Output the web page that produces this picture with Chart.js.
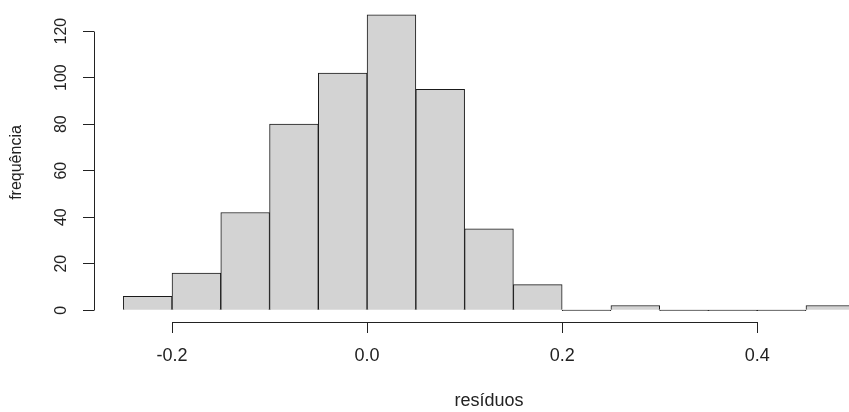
<!DOCTYPE html>
<html lang="pt">
<head>
<meta charset="utf-8">
<title>Histograma dos resíduos</title>
<script src="https://cdn.jsdelivr.net/npm/chart.js@4.4.1/dist/chart.umd.min.js"></script>
<style>
    html, body { margin: 0; padding: 0; background: #fff; overflow: hidden; }
    canvas { display: block; }
</style>
</head>
<body>
<canvas id="hist-chart" width="890" height="412"></canvas>
<script>
// histogram of the residuals: bin edges and counts per bin
const breaks = [-0.25, -0.2, -0.15, -0.1, -0.05, 0, 0.05, 0.1, 0.15, 0.2, 0.25, 0.3, 0.35, 0.4, 0.45, 0.5];
const counts = [6, 16, 42, 80, 102, 127, 95, 35, 11, 0, 2, 0, 0, 0, 2];
const xTicks = [-0.2, 0, 0.2, 0.4];
const yTicks = [0, 20, 40, 60, 80, 100, 120];
const xLabel = "resíduos";
const yLabel = "frequência";

const ink = "#222";
const font = "'Liberation Sans', Arial, sans-serif";

document.addEventListener("DOMContentLoaded", () => {
    renderHistogram();
});

// R style axes: the line only runs between the first and last tick
const rAxisLines = {
    id: "rAxisLines",
    afterDraw(chart) {
        const { ctx, chartArea, scales: { x, y } } = chart;
        const left = Math.round(chartArea.left) + 0.5;
        const bottom = Math.round(chartArea.bottom) + 0.5;
        ctx.save();
        ctx.strokeStyle = ink;
        ctx.lineWidth = 1;
        ctx.beginPath();
        ctx.moveTo(left, Math.round(y.getPixelForValue(yTicks[0])) + 0.5);
        ctx.lineTo(left, Math.round(y.getPixelForValue(yTicks[yTicks.length - 1])) + 0.5);
        ctx.moveTo(Math.round(x.getPixelForValue(xTicks[0])) + 0.5, bottom);
        ctx.lineTo(Math.round(x.getPixelForValue(xTicks[xTicks.length - 1])) + 0.5, bottom);
        ctx.stroke();
        ctx.restore();
    }
};

function renderHistogram() {
    const bins = counts.map((n, i) => ({ x: (breaks[i] + breaks[i + 1]) / 2, y: n }));
    // R pads the data range by 4% on each side
    const xPad = (breaks[breaks.length - 1] - breaks[0]) * 0.04;
    const yPad = Math.max(...counts) * 0.04;

    new Chart(document.getElementById("hist-chart"), {
        type: "bar",
        data: {
            datasets: [{
                data: bins,
                backgroundColor: "#d3d3d3",
                borderColor: "#1a1a1a",
                borderWidth: 1,
                minBarLength: 1,
                barPercentage: 1,
                categoryPercentage: 1
            }]
        },
        options: {
            responsive: false,
            animation: false,
            layout: { padding: { top: 3, right: 6, left: 0, bottom: 0 } },
            plugins: { legend: { display: false }, tooltip: { enabled: false } },
            scales: {
                x: {
                    type: "linear",
                    offset: false,
                    min: breaks[0] - xPad,
                    max: breaks[breaks.length - 1] + xPad,
                    afterBuildTicks: s => { s.ticks = xTicks.map(v => ({ value: v })); },
                    afterFit: s => { s.height = 90; s.paddingLeft = 0; s.paddingRight = 0; },
                    border: { display: false },
                    grid: { drawOnChartArea: false, drawTicks: true, tickLength: 11, color: ink, offset: false },
                    ticks: {
                        color: ink,
                        padding: 12,
                        maxRotation: 0,
                        autoSkip: false,
                        font: { family: font, size: 18 },
                        callback: v => v.toFixed(1)
                    },
                    title: { display: true, text: xLabel, color: ink, padding: { top: 0, bottom: 0 }, font: { family: font, size: 18 } }
                },
                y: {
                    min: -yPad,
                    max: Math.max(...counts) + yPad,
                    afterBuildTicks: s => { s.ticks = yTicks.map(v => ({ value: v })); },
                    afterFit: s => { s.width = 94; s.paddingTop = 0; s.paddingBottom = 0; },
                    border: { display: false },
                    grid: { drawOnChartArea: false, drawTicks: true, tickLength: 11, color: ink },
                    ticks: {
                        color: ink,
                        padding: 8,
                        minRotation: 90,
                        maxRotation: 90,
                        crossAlign: "center",
                        autoSkip: false,
                        font: { family: font, size: 16 }
                    },
                    title: { display: true, text: yLabel, color: ink, padding: { top: 7, bottom: 0 }, font: { family: font, size: 16 } }
                }
            }
        },
        plugins: [rAxisLines]
    });
}
</script>
</body>
</html>
